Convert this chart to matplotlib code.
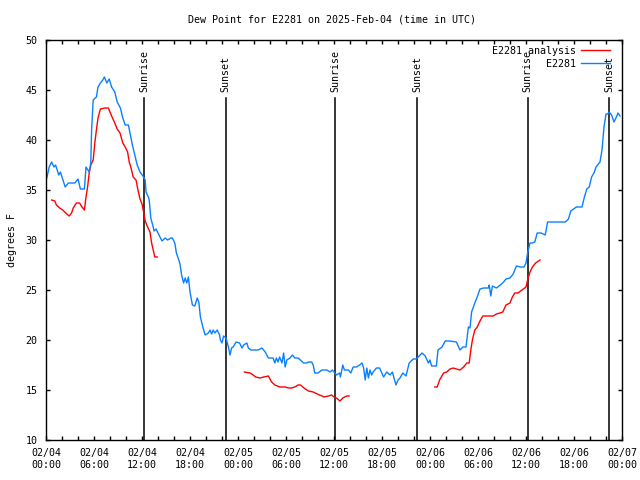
import numpy as np
import matplotlib
matplotlib.use('Agg')
import matplotlib.pyplot as plt

# horas desde 02/04 00:00 UTC
obs_h = [0.1, 0.4, 0.7, 1.0, 1.2, 1.6, 1.8, 2.0, 2.4, 2.8, 3.6, 4.0, 4.3, 4.8, 5.0, 5.4, 5.6, 5.7, 5.9,
         6.3, 6.5, 6.8, 7.1, 7.3, 7.6, 7.9, 8.2, 8.6, 8.9, 9.3, 9.6, 9.9, 10.3, 10.5, 10.8, 11.1, 11.4,
         11.75, 12.2, 12.4, 12.5, 12.8, 12.9, 13.1, 13.4, 13.5, 13.75, 14.0, 14.5, 14.9, 15.2, 15.6,
         15.8, 16.1, 16.3, 16.6, 16.75, 16.95, 17.2, 17.4, 17.6, 17.8, 18.0, 18.3, 18.6, 18.9, 19.1,
         19.3, 19.6, 19.9, 20.3, 20.5, 20.7, 20.9, 21.1, 21.4, 21.7, 21.8, 22.0, 22.2, 22.5, 22.8,
         23.0, 23.2, 23.4, 23.75, 24.2, 24.5, 24.7, 25.1, 25.3, 25.6, 26.5, 27.0, 27.4, 27.8, 28.4,
         28.6, 28.8, 29.0, 29.2, 29.5, 29.7, 29.9, 30.1, 30.5, 30.8, 31.1, 31.5, 31.8, 32.2, 32.6,
         32.8, 33.2, 33.4, 33.6, 34.0, 34.5, 35.1, 35.5, 35.8, 36.1, 36.3, 36.7, 36.8, 37.1, 37.3,
         37.8, 38.1, 38.4, 38.8, 39.2, 39.5, 39.7, 39.9, 40.1, 40.3, 40.5, 40.7, 40.9, 41.3, 41.7,
         42.2, 42.6, 43.0, 43.3, 43.5, 43.75, 44.0, 44.25, 44.6, 45.0, 45.4, 45.9, 46.3, 47.0, 47.4,
         47.8, 48.0, 48.2, 48.8, 49.0, 49.5, 49.9, 50.5, 51.3, 51.75, 52.1, 52.5, 52.8, 53.0, 53.2,
         53.6, 53.9, 54.25, 54.7, 55.3, 55.4, 55.6, 55.8, 56.3, 56.8, 57.2, 57.5, 58.0, 58.4, 58.8,
         59.3, 59.75, 60.0, 60.2, 60.5, 60.8, 61.1, 61.4, 61.9, 62.4, 62.7, 64.9, 65.3, 65.6, 66.3,
         67.0, 67.3, 67.6, 67.9, 68.2, 68.5, 68.75, 69.25, 69.5, 69.75, 70.0, 70.2, 70.4, 70.7, 71.0,
         71.3, 71.5, 71.75]
obs_v = [36.2, 37.3, 37.8, 37.3, 37.5, 36.5, 36.8, 36.3, 35.3, 35.7, 35.7, 36.1, 35.1, 35.1, 37.3, 36.8,
         37.7, 41.0, 44.0, 44.3, 45.3, 45.7, 46.0, 46.3, 45.7, 46.1, 45.3, 44.8, 43.8, 43.2, 42.2, 41.5,
         41.5, 40.7, 39.5, 38.5, 37.5, 36.8, 36.3, 36.0, 34.8, 34.3, 34.0, 32.2, 31.3, 30.9, 31.1, 30.7,
         29.9, 30.2, 30.0, 30.2, 30.2, 29.7, 28.7, 28.0, 27.6, 26.5, 25.7, 26.2, 25.7, 26.3, 24.8, 23.5,
         23.4, 24.2, 23.8, 22.3, 21.3, 20.5, 20.7, 21.0, 20.6, 21.0, 20.7, 21.0, 20.5, 20.0, 19.7, 20.4,
         20.2, 19.3, 18.5, 19.2, 19.3, 19.8, 19.7, 19.2, 19.5, 19.7, 19.2, 19.0, 19.0, 19.2, 18.8, 18.2,
         18.2, 17.7, 18.2, 17.8, 18.3, 17.7, 18.7, 17.3, 18.0, 18.2, 18.5, 18.2, 18.2, 18.0, 17.7, 17.7,
         17.8, 17.8, 17.5, 16.7, 16.7, 17.0, 17.0, 16.8, 17.0, 16.7, 16.5, 16.7, 16.3, 17.5, 17.0, 17.0,
         16.7, 17.3, 17.3, 17.5, 17.7, 17.2, 16.0, 17.2, 16.2, 17.0, 16.5, 16.8, 17.2, 17.2, 16.3, 16.8,
         16.5, 16.8, 16.2, 15.5, 16.0, 16.2, 16.7, 16.4, 17.7, 18.1, 18.1, 18.7, 18.4, 17.7, 18.0, 17.4,
         17.4, 19.0, 19.3, 19.9, 19.9, 19.8, 19.0, 19.3, 19.3, 21.3, 21.2, 22.8, 23.7, 24.3, 25.1, 25.2,
         25.2, 25.5, 24.4, 25.4, 25.2, 25.5, 25.8, 26.1, 26.2, 26.6, 27.4, 27.3, 27.3, 27.7, 28.7, 29.7,
         29.7, 29.8, 30.7, 30.7, 30.5, 31.8, 31.8, 32.1, 32.9, 33.3, 33.3, 34.3, 35.1, 35.3, 36.3, 36.7,
         37.3, 37.8, 39.0, 41.3, 42.6, 42.6, 42.8, 42.5, 41.8, 42.3, 42.7, 42.4]

# analise (nan separa os trechos)
ana_h = [0.7, 1.1, 1.3, 1.7, 2.1, 2.6, 2.9, 3.2, 3.4, 3.8, 4.2, 4.5, 4.8, 5.0, 5.2, 5.4, 5.6, 5.9, 6.1,
         6.3, 6.5, 6.8, 7.4, 7.8, 8.0, 8.2, 8.6, 8.9, 9.25, 9.6, 9.9, 10.2, 10.4, 10.6, 10.9, 11.25,
         11.5, 11.75, 12.0, 12.2, 12.4, 12.7, 13.0, 13.2, 13.4, 13.6, 13.9, np.nan,
         24.8, 25.5, 25.9, 26.2, 26.75, 27.2, 27.8, 28.2, 28.6, 29.25, 29.9, 30.3, 30.7, 31.1, 31.5,
         31.8, 32.25, 32.8, 33.4, 33.9, 34.5, 34.75, 35.3, 35.7, 36.0, 36.3, 36.75, 37.1, 37.6, 37.9,
         np.nan,
         48.6, 48.9, 49.2, 49.7, 50.1, 50.5, 50.9, 51.3, 51.75, 52.2, 52.6, 52.9, 53.1, 53.3, 53.6,
         53.9, 54.25, 54.6, 55.9, 56.3, 56.75, 57.1, 57.5, 58.0, 58.3, 58.6, 59.0, 59.5, 60.0, 60.2,
         60.5, 60.8, 61.2, 61.75]
ana_v = [34.0, 33.9, 33.5, 33.2, 33.0, 32.6, 32.4, 32.7, 33.2, 33.7, 33.7, 33.3, 33.0, 34.3, 35.3, 36.7,
         37.5, 38.0, 39.7, 41.0, 42.2, 43.1, 43.2, 43.2, 42.8, 42.4, 41.7, 41.1, 40.7, 39.7, 39.3, 38.8,
         37.8, 37.3, 36.3, 36.0, 35.0, 34.1, 33.6, 32.8, 31.9, 31.3, 30.8, 29.7, 29.0, 28.3, 28.3, np.nan,
         16.8, 16.7, 16.5, 16.3, 16.2, 16.3, 16.4, 15.8, 15.5, 15.3, 15.3, 15.2, 15.2, 15.3, 15.5, 15.5,
         15.2, 14.9, 14.8, 14.6, 14.4, 14.3, 14.4, 14.5, 14.3, 14.2, 13.9, 14.2, 14.4, 14.4, np.nan,
         15.3, 15.3, 16.0, 16.7, 16.8, 17.1, 17.2, 17.1, 17.0, 17.3, 17.7, 17.7, 19.0, 20.0, 21.0, 21.3,
         21.9, 22.4, 22.4, 22.6, 22.7, 22.8, 23.5, 23.7, 24.3, 24.7, 24.7, 25.0, 25.3, 26.0, 26.8, 27.3,
         27.7, 28.0]

sun_h = [12.25, 22.45, 36.15, 46.4, 60.2, 70.4]
sun_txt = ['Sunrise', 'Sunset', 'Sunrise', 'Sunset', 'Sunrise', 'Sunset']

tick_h = list(range(0, 73, 6))
tick_lbl = ['02/04\n00:00', '02/04\n06:00', '02/04\n12:00', '02/04\n18:00',
            '02/05\n00:00', '02/05\n06:00', '02/05\n12:00', '02/05\n18:00',
            '02/06\n00:00', '02/06\n06:00', '02/06\n12:00', '02/06\n18:00',
            '02/07\n00:00']

plt.rcParams['font.family'] = ['DejaVu Sans Mono']
plt.rcParams['font.size'] = 7.2

fig = plt.figure(figsize=(6.4, 4.8), dpi=100)
ax = fig.add_axes([46/640, 40/480, 576/640, 400/480])

for h, t in zip(sun_h, sun_txt):
    ax.plot([h, h], [10, 44.2], color='black', lw=1.1)
    ax.text(h, 44.8, t, rotation=90, ha='center', va='bottom')

ax.plot(ana_h, ana_v, color='#ff0000', lw=1.0, label='E2281 analysis')
ax.plot(obs_h, obs_v, color='#0a80ff', lw=1.0, label='E2281')

ax.set_xlim(0, 72)
ax.set_ylim(10, 50)
ax.set_xticks(tick_h)
ax.set_xticklabels(tick_lbl)
ax.set_xticks(range(0, 73, 2), minor=True)
ax.set_yticks(range(10, 51, 5))
ax.tick_params(which='both', direction='in', top=True, right=True, length=3, width=1, pad=6)
for s in ax.spines.values():
    s.set_linewidth(1.0)

ax.set_ylabel('degrees F')
ax.yaxis.set_label_coords(-0.05, 0.5)

fig.text(0.519, 1 - 20/480, 'Dew Point for E2281 on 2025-Feb-04 (time in UTC)', ha='center', va='center')

ax.legend(loc='upper right', bbox_to_anchor=(0.979, 0.985), frameon=False, markerfirst=False,
          handlelength=2.9, handletextpad=0.5, labelspacing=0.3, borderaxespad=0, borderpad=0)

plt.savefig('out.png', dpi=100)
